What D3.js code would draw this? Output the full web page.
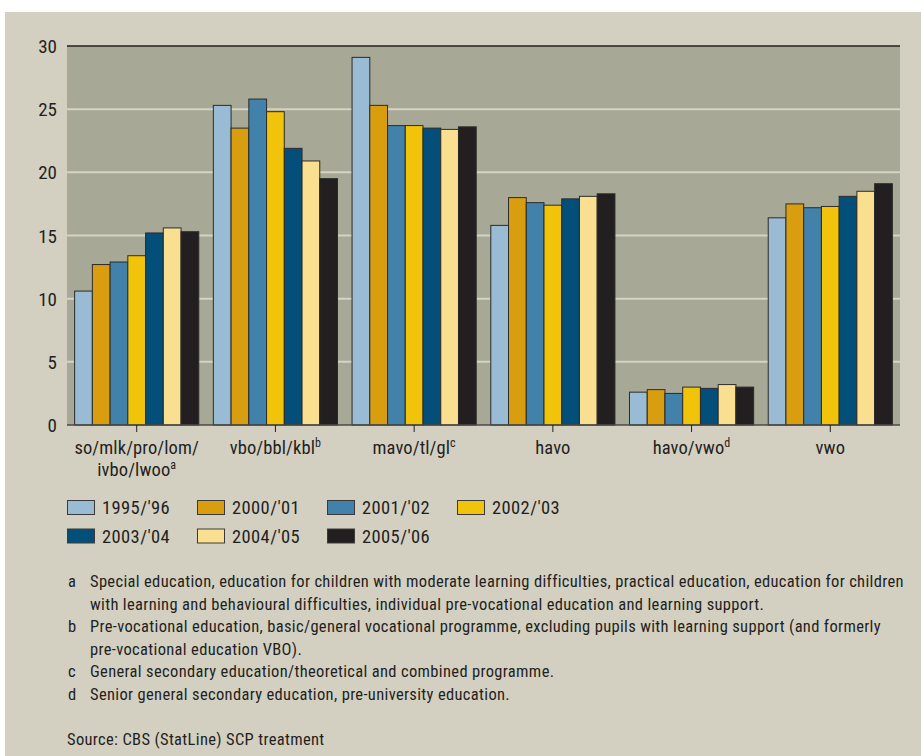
<!DOCTYPE html>
<html>
<head>
<meta charset="utf-8">
<script src="https://cdn.jsdelivr.net/npm/d3@7"></script>
<style>
    body { margin: 0; background: #fff; }
    svg { display: block; }
    .cond { font-family: 'Roboto Condensed', 'DejaVu Sans Condensed', sans-serif; fill: #231f20; }
</style>
</head>
<body>
<svg id="chart" width="921" height="756"></svg>
<script>
// categories (x axis) with their label lines and footnote letters
var categories = ['so/mlk/pro/lom/ivbo/lwoo', 'vbo/bbl/kbl', 'mavo/tl/gl', 'havo', 'havo/vwo', 'vwo'];
var categoryLines = [['so/mlk/pro/lom/', 'ivbo/lwoo'], ['vbo/bbl/kbl'], ['mavo/tl/gl'], ['havo'], ['havo/vwo'], ['vwo']];
var categoryNotes = ['a', 'b', 'c', '', 'd', ''];

// school years and their values (percent)
var years = ["1995/'96", "2000/'01", "2001/'02", "2002/'03", "2003/'04", "2004/'05", "2005/'06"];
var v1995 = [10.6, 25.3, 29.1, 15.8, 2.6, 16.4];
var v2000 = [12.7, 23.5, 25.3, 18.0, 2.8, 17.5];
var v2001 = [12.9, 25.8, 23.7, 17.6, 2.5, 17.2];
var v2002 = [13.4, 24.8, 23.7, 17.4, 3.0, 17.3];
var v2003 = [15.2, 21.9, 23.5, 17.9, 2.9, 18.1];
var v2004 = [15.6, 20.9, 23.4, 18.1, 3.2, 18.5];
var v2005 = [15.3, 19.5, 23.6, 18.3, 3.0, 19.1];
var yTicks = [0, 5, 10, 15, 20, 25, 30];

var colors = ['#99bbd3', '#d99e0f', '#4181aa', '#f2c30b', '#034f79', '#f9df8f', '#231f20'];

var footnotes = [
    ['a', 'Special education, education for children with moderate learning difficulties, practical education, education for children',
          'with learning and behavioural difficulties, individual pre-vocational education and learning support.'],
    ['b', 'Pre-vocational education, basic/general vocational programme, excluding pupils with learning support (and formerly',
          'pre-vocational education VBO).'],
    ['c', 'General secondary education/theoretical and combined programme.'],
    ['d', 'Senior general secondary education, pre-university education.']
];
var source = 'Source: CBS (StatLine) SCP treatment';

var series = [v1995, v2000, v2001, v2002, v2003, v2004, v2005];
var data = categories.map(function(c, i) {
    return { cat: c, values: series.map(function(s, j) { return { year: years[j], value: s[i] }; }) };
});

var svg = d3.select('#chart');

// beige panel
svg.append('rect')
    .attr('x', 5).attr('y', 12)
    .attr('width', 916).attr('height', 744)
    .attr('fill', '#d3d0c2');

var margin = { top: 46, left: 67 },
    width = 833,
    height = 379;

var g = svg.append('g').attr('transform', 'translate(' + margin.left + ',' + margin.top + ')');

var x = d3.scaleBand()
    .domain(categories)
    .range([0, width])
    .paddingInner(0.105)
    .paddingOuter(0.055);

var x1 = d3.scaleBand()
    .domain(years)
    .range([0, x.bandwidth()]);

var y = d3.scaleLinear()
    .domain([0, 30])
    .range([height, 0]);

// plot background
g.append('rect')
    .attr('width', width)
    .attr('height', height)
    .attr('fill', '#a8a896');

// grid lines
g.append('g')
    .selectAll('line')
    .data(yTicks.filter(function(d) { return d > 0 && d < 30; }))
    .enter()
    .append('line')
    .attr('x1', 0).attr('x2', width)
    .attr('y1', function(d) { return y(d); })
    .attr('y2', function(d) { return y(d); })
    .attr('stroke', '#d6d3c4')
    .attr('stroke-width', 2);

// top border
g.append('line')
    .attr('x1', 0).attr('x2', width)
    .attr('y1', y(30)).attr('y2', y(30))
    .attr('stroke', '#231f20')
    .attr('stroke-width', 1.5);

// y axis labels
var yAxis = g.append('g')
    .call(d3.axisLeft(y).tickValues(yTicks).tickSize(0).tickPadding(10));
yAxis.select('.domain').remove();
yAxis.selectAll('text')
    .attr('class', 'cond')
    .attr('font-size', 19)
    .attr('dy', '0.35em');

// bars
g.append('g')
    .selectAll('g')
    .data(data)
    .enter()
    .append('g')
    .attr('transform', function(d) { return 'translate(' + x(d.cat) + ',0)'; })
    .selectAll('rect')
    .data(function(d) { return d.values; })
    .enter()
    .append('rect')
    .attr('x', function(d) { return x1(d.year); })
    .attr('y', function(d) { return y(d.value); })
    .attr('width', x1.bandwidth())
    .attr('height', function(d) { return height - y(d.value); })
    .attr('fill', function(d, i) { return colors[i]; })
    .attr('stroke', '#2b2b2b')
    .attr('stroke-width', 1);

// x axis
var xAxis = g.append('g')
    .attr('transform', 'translate(0,' + height + ')')
    .call(d3.axisBottom(x).tickSize(7).tickFormat(''));
xAxis.select('.domain')
    .attr('stroke', '#4a4a45')
    .attr('stroke-width', 1.5)
    .attr('d', 'M0,0H' + width);
xAxis.selectAll('.tick line').attr('stroke', '#231f20');

var labels = g.append('g').attr('class', 'cond');
categories.forEach(function(c, i) {
    var lines = categoryLines[i];
    var t = labels.append('text')
        .attr('text-anchor', 'middle')
        .attr('font-size', 18.5)
        .attr('letter-spacing', 0.1)
        .attr('transform', 'translate(' + (x(c) + x.bandwidth() / 2) + ',' + (height + 29) + ')');
    lines.forEach(function(l, k) {
        t.append('tspan')
            .attr('x', 0)
            .attr('dy', k === 0 ? 0 : 22)
            .text(l);
        if (k === lines.length - 1 && categoryNotes[i]) {
            t.append('tspan')
                .attr('dy', -7)
                .attr('font-size', 12)
                .text(categoryNotes[i]);
        }
    });
});

// legend
var legend = svg.append('g').attr('class', 'cond');
years.forEach(function(yr, i) {
    var col = i % 4, row = Math.floor(i / 4);
    var lx = 67 + col * 130, ly = 500 + row * 28.5;
    legend.append('rect')
        .attr('x', lx + 0.5).attr('y', ly + 0.5)
        .attr('width', 27).attr('height', 14)
        .attr('fill', colors[i])
        .attr('stroke', '#3a3a3a')
        .attr('stroke-width', 1);
    legend.append('text')
        .attr('x', lx + 35).attr('y', ly + 14)
        .attr('font-size', 18.5)
        .attr('letter-spacing', 0.4)
        .text(yr);
});

// footnotes
var notes = svg.append('g').attr('class', 'cond')
    .attr('font-size', 16.5)
    .attr('letter-spacing', 0.34);
var ny = 587;
footnotes.forEach(function(f) {
    notes.append('text').attr('x', 68).attr('y', ny).text(f[0]);
    f.slice(1).forEach(function(line) {
        notes.append('text').attr('x', 90).attr('y', ny).text(line);
        ny += 22.6;
    });
});
notes.append('text').attr('x', 67).attr('y', 745).text(source);
</script>
</body>
</html>
